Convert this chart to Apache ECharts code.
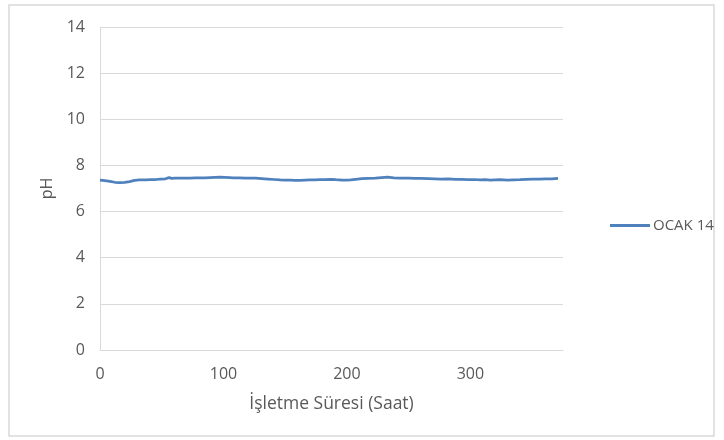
<!DOCTYPE html>
<html>
<head>
<meta charset="utf-8">
<script src="https://cdn.jsdelivr.net/npm/echarts@6/dist/echarts.min.js"></script>
<style>
html,body{margin:0;padding:0;background:#fff;}
#chart{width:724px;height:440px;}
</style>
</head>
<body>
<div id="chart"></div>
<script>
// Data
var seriesName = 'OCAK 14';
var hours = [0, 4, 8, 12, 16, 20, 24, 28, 32, 37, 41, 45, 49, 53, 56, 58, 61, 65, 69, 73, 77, 81, 85, 89, 93, 97, 101, 105, 108, 113, 118, 122, 126, 131, 136, 141, 146, 150, 154, 158, 162, 166, 170, 174, 178, 182, 187, 191, 196, 200, 203, 207, 212, 217, 223, 228, 233, 238, 243, 250, 255, 260, 266, 271, 276, 282, 288, 293, 298, 303, 308, 312, 316, 320, 324, 330, 335, 340, 345, 351, 356, 361, 366, 371];
var ph = [7.36, 7.34, 7.31, 7.27, 7.25, 7.27, 7.30, 7.35, 7.37, 7.37, 7.38, 7.39, 7.41, 7.42, 7.47, 7.44, 7.45, 7.45, 7.45, 7.45, 7.46, 7.46, 7.46, 7.47, 7.48, 7.49, 7.48, 7.47, 7.46, 7.46, 7.45, 7.45, 7.45, 7.43, 7.41, 7.39, 7.37, 7.36, 7.36, 7.35, 7.35, 7.36, 7.37, 7.37, 7.38, 7.39, 7.40, 7.38, 7.36, 7.36, 7.37, 7.40, 7.43, 7.44, 7.45, 7.47, 7.49, 7.46, 7.45, 7.45, 7.44, 7.44, 7.43, 7.42, 7.41, 7.42, 7.40, 7.40, 7.38, 7.39, 7.37, 7.38, 7.36, 7.37, 7.38, 7.36, 7.37, 7.38, 7.40, 7.41, 7.41, 7.42, 7.42, 7.44];
var yTicks = [0, 2, 4, 6, 8, 10, 12, 14];
var xTicks = [0, 100, 200, 300];
var xTitle = 'İşletme Süresi (Saat)';
var yTitle = 'pH';

var points = hours.map(function (h, i) { return [h, ph[i]]; });
var font = 'Open Sans';
var chart = echarts.init(document.getElementById('chart'));
chart.setOption({
  backgroundColor: '#ffffff',
  animation: false,
  textStyle: { fontFamily: font },
  graphic: [{
    type: 'rect',
    shape: { x: 9, y: 5, width: 705, height: 431 },
    style: { fill: 'none', stroke: '#d9d9d9', lineWidth: 1.5 },
    silent: true
  }],
  grid: { left: 100, right: 161, top: 27, bottom: 90, containLabel: false },
  legend: {
    left: 605, top: 213,
    icon: 'rect', itemWidth: 40, itemHeight: 3, itemGap: 5,
    textStyle: { fontFamily: font, fontSize: 15, color: '#595959', padding: [0, 0, 0, -2] },
    data: [seriesName]
  },
  xAxis: {
    type: 'value', min: 0, max: 375, interval: 100,
    name: xTitle, nameLocation: 'middle', nameGap: 45,
    nameTextStyle: { fontFamily: font, fontSize: 17.5, color: '#595959' },
    axisLine: { show: true, lineStyle: { color: '#d9d9d9', width: 1 } },
    axisTick: { show: false },
    splitLine: { show: false },
    axisLabel: {
      margin: 16, fontSize: 16, color: '#595959', fontFamily: font, showMaxLabel: false,
      formatter: function (v) { return xTicks.indexOf(v) >= 0 ? String(v) : ''; }
    }
  },
  yAxis: {
    type: 'value', min: 0, max: 14, interval: 2,
    name: yTitle, nameLocation: 'middle', nameGap: 44,
    nameTextStyle: { fontFamily: font, fontSize: 16, color: '#595959' },
    axisLine: { show: true, lineStyle: { color: '#d9d9d9', width: 1 } },
    axisTick: { show: false },
    splitLine: { show: true, lineStyle: { color: '#d9d9d9', width: 1 } },
    axisLabel: {
      margin: 15, fontSize: 16, color: '#595959', fontFamily: font,
      formatter: function (v) { return yTicks.indexOf(v) >= 0 ? String(v) : ''; }
    }
  },
  series: [{
    name: seriesName, type: 'line', data: points,
    showSymbol: false, symbol: 'none',
    lineStyle: { color: '#4f81bd', width: 2.75 },
    itemStyle: { color: '#4f81bd' }
  }]
});
</script>
</body>
</html>
